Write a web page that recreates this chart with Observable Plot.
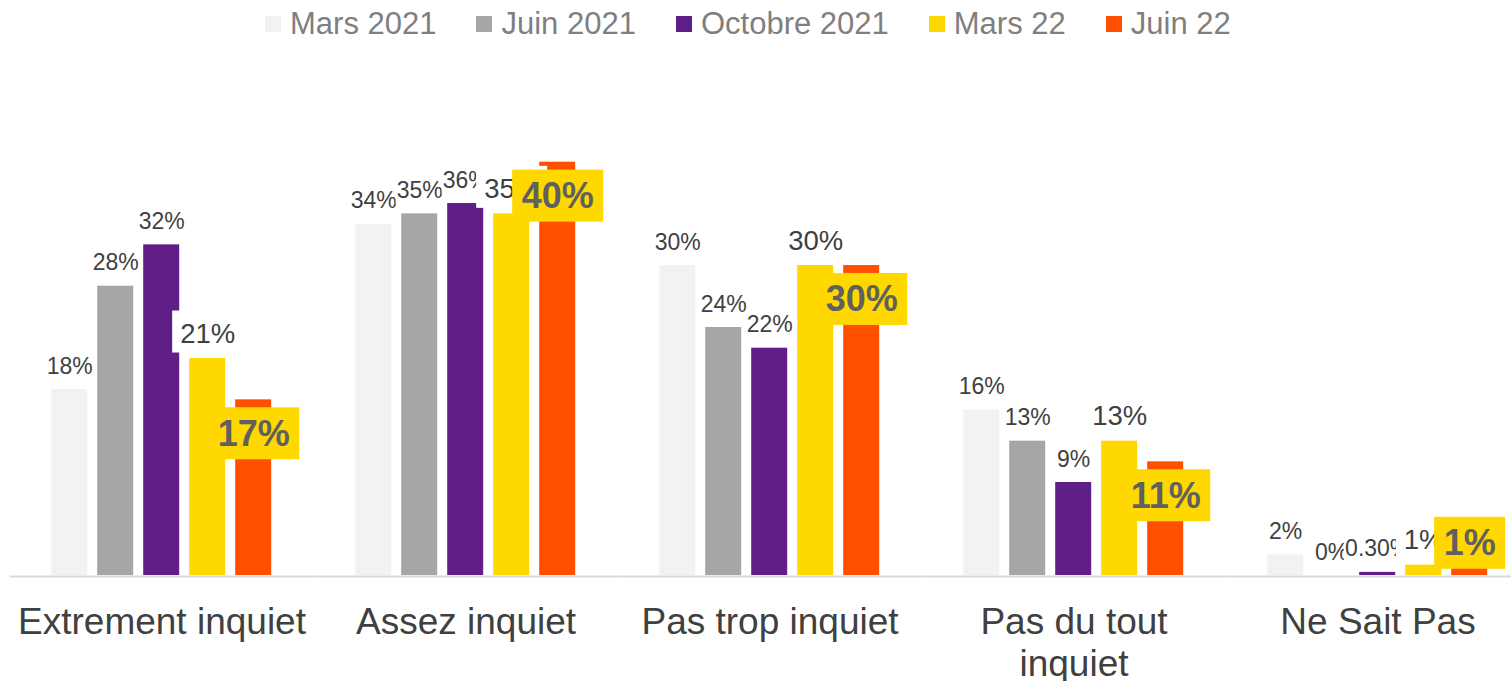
<!DOCTYPE html>
<html>
<head>
<meta charset="utf-8">
<script src="https://cdn.jsdelivr.net/npm/d3@7"></script>
<script src="https://cdn.jsdelivr.net/npm/@observablehq/plot@0.6"></script>
<style>
  html, body { margin: 0; padding: 0; background: #fff; overflow: hidden; }
  body { width: 1511px; height: 681px; font-family: "Liberation Sans", Arial, sans-serif; }
  #legend { height: 47px; display: flex; align-items: center; padding-left: 265px; box-sizing: border-box; }
  #legend .item { display: flex; align-items: center; margin-right: 40px; font-size: 31px; color: #7f7f7f; white-space: nowrap; }
  #legend .sw { width: 16px; height: 16px; margin-right: 9px; display: inline-block; }
</style>
</head>
<body>
<div id="legend"></div>
<div id="chart"></div>
<script>
// ---- Data ----
const categories = ["Extrement inquiet", "Assez inquiet", "Pas trop inquiet", "Pas du tout inquiet", "Ne Sait Pas"];
const categoryLabels = ["Extrement inquiet", "Assez inquiet", "Pas trop inquiet", "Pas du tout\ninquiet", "Ne Sait Pas"];
const series = ["Mars 2021", "Juin 2021", "Octobre 2021", "Mars 22", "Juin 22"];
const seriesColors = ["#f2f2f2", "#a6a6a6", "#5f1f87", "#ffd800", "#ff5000"];
const mars2021 = [18, 34, 30, 16, 2];
const juin2021 = [28, 35, 24, 13, 0];
const octobre2021 = [32, 36, 22, 9, 0.3];
const mars22 = [21, 35, 30, 13, 1];
const juin22 = [17, 40, 30, 11, 1];

const valuesBySeries = [mars2021, juin2021, octobre2021, mars22, juin22];
const data = categories.flatMap((c, ci) =>
  series.map((s, si) => ({category: c, series: s, value: valuesBySeries[si][ci]})));
const fmt = v => (Number.isInteger(v) ? v : v.toFixed(2)) + "%";
const highlight = "Juin 22";

// ---- Legend ----
const legend = document.getElementById("legend");
series.forEach((s, i) => {
  const it = document.createElement("span");
  it.className = "item";
  const sw = document.createElement("span");
  sw.className = "sw";
  sw.style.background = seriesColors[i];
  it.append(sw, document.createTextNode(s));
  legend.append(it);
});

// ---- Chart ----
const chart = Plot.plot({
  width: 1511,
  height: 634,
  marginTop: 114.7,
  marginBottom: 106,
  marginLeft: 8.8,
  marginRight: -19.5,
  style: {fontFamily: "'Liberation Sans', Arial, sans-serif", background: "#fff", overflow: "visible"},
  fx: {domain: categories, range: [8.8, 1530.5], paddingInner: 0.2328, paddingOuter: 0.1164, axis: null, label: null},
  x: {domain: series, paddingInner: 0.218, paddingOuter: 0.109, axis: null, label: null},
  y: {domain: [0, 40], axis: null, label: null},
  color: {domain: series, range: seriesColors},
  marks: [
    Plot.ruleY([0], {stroke: "#d9d9d9", strokeWidth: 2, dy: 1, insetLeft: -35.5, insetRight: -35.5}),
    Plot.barY(data, {fx: "category", x: "series", y: "value", fill: "series"}),
    Plot.text(data.filter(d => d.series !== highlight), {
      fx: "category", x: "series", y: "value",
      text: d => fmt(d.value),
      dy: -16, lineAnchor: "bottom", textAnchor: "middle",
      fontSize: d => d.series === "Mars 22" ? 27.5 : 23,
      fill: "#3f3f3f"
    }),
    Plot.text(data.filter(d => d.series === highlight), {
      fx: "category", x: "series", y: d => Math.max(d.value, 6.4),
      text: d => fmt(d.value),
      dy: 34.4, lineAnchor: "middle", textAnchor: "middle",
      fontSize: 36, fontWeight: "bold",
      fill: "#606060"
    }),
    Plot.text(categories, {
      fx: d => d,
      text: (d, i) => categoryLabels[i],
      frameAnchor: "bottom", lineAnchor: "top", textAnchor: "middle",
      dy: 29.5, fontSize: 37, lineHeight: 1.12,
      fill: "#404040"
    })
  ]
});
document.getElementById("chart").append(chart);

// label background boxes
function addBackground(t, fill, padX, padTop, padBottom) {
  const b = t.getBBox();
  const r = document.createElementNS("http://www.w3.org/2000/svg", "rect");
  r.setAttribute("x", b.x - padX);
  r.setAttribute("y", b.y - padTop);
  r.setAttribute("width", b.width + 2 * padX);
  r.setAttribute("height", b.height + padTop + padBottom);
  r.setAttribute("fill", fill);
  r.setAttribute("stroke", "none");
  const tr = t.getAttribute("transform");
  if (tr) r.setAttribute("transform", tr);
  t.parentNode.insertBefore(r, t);
}
const texts = Array.from(chart.querySelectorAll("text"));
texts.forEach(t => {
  const txt = t.textContent.trim();
  if (!/%$/.test(txt)) return;
  const bold = t.closest('[font-weight="bold"]') || t.getAttribute("font-weight") === "bold";
  const fs = parseFloat(getComputedStyle(t).fontSize);
  if (bold) addBackground(t, "#ffd800", 9.5, 5.5, 5.5);
  else if (fs > 25) addBackground(t, "#ffffff", 8, 7, 4);
  else addBackground(t, "#ffffff", 1, 1, 1);
});
</script>
</body>
</html>
